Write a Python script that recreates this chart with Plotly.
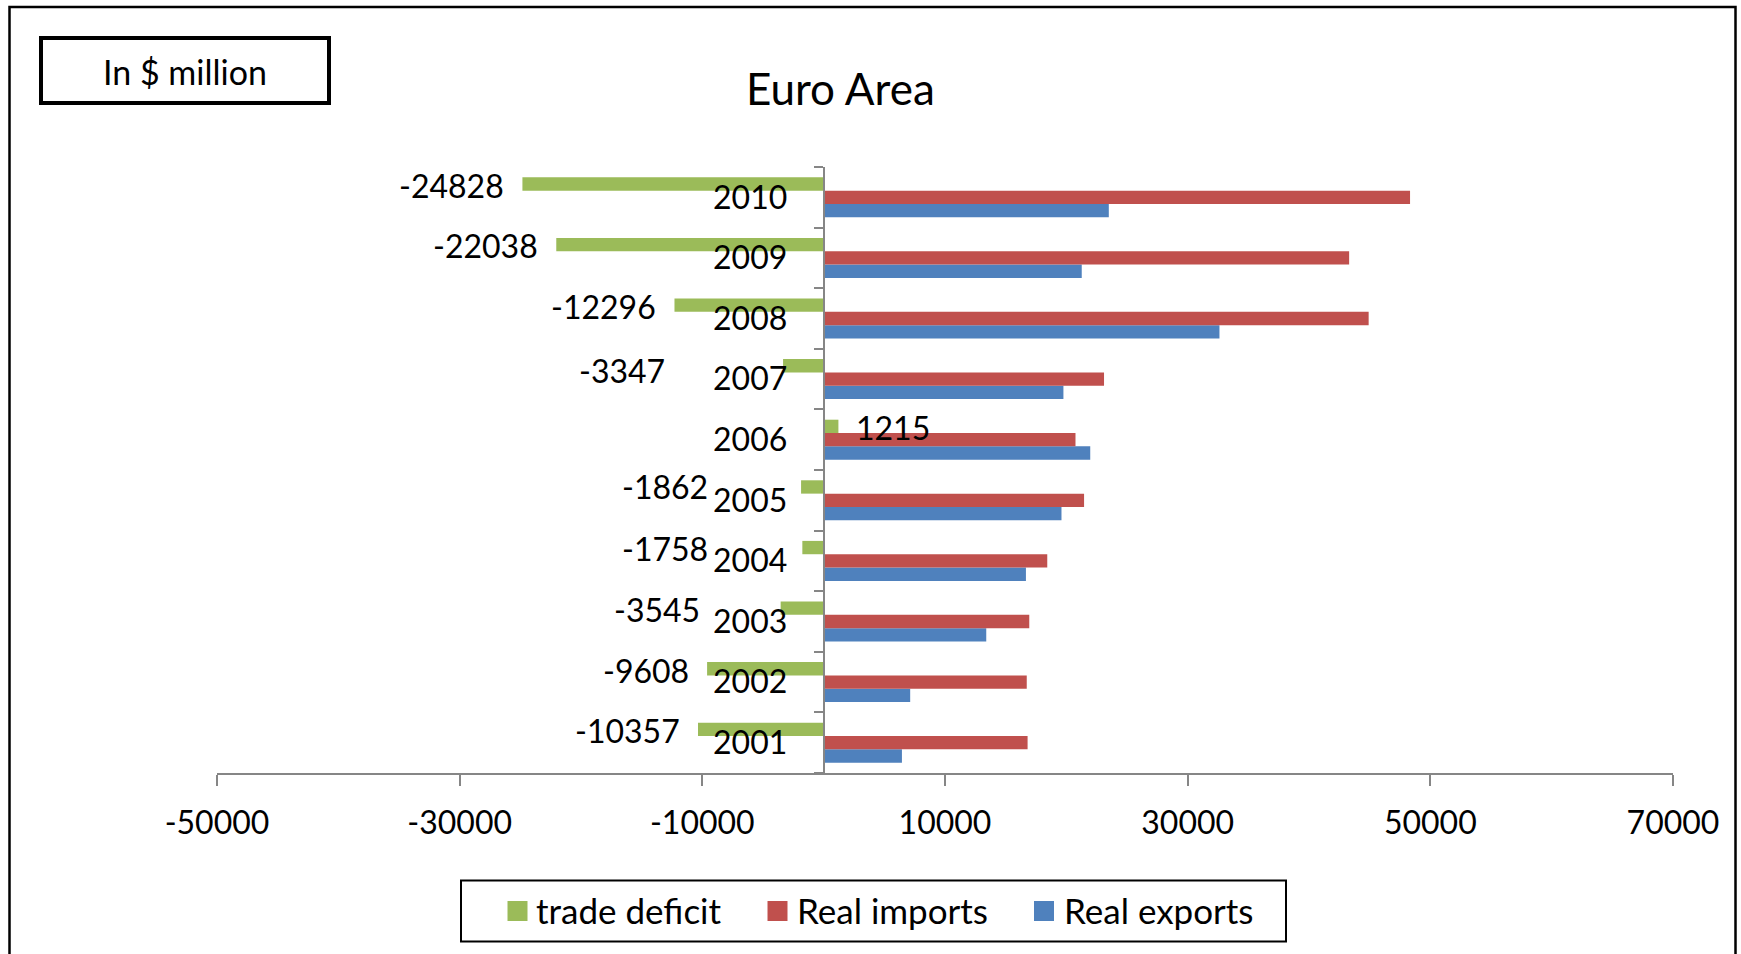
import plotly.graph_objects as go

# --- data (US$ million) ---
years = ["2001", "2002", "2003", "2004", "2005", "2006", "2007", "2008", "2009", "2010"]
real_exports = [6450, 7130, 13400, 16670, 19600, 21970, 19760, 32620, 21270, 23500]
real_imports = [16807, 16738, 16945, 18428, 21462, 20755, 23107, 44916, 43308, 48328]
trade_deficit = [-10357, -9608, -3545, -1758, -1862, 1215, -3347, -12296, -22038, -24828]

x_ticks = [-50000, -30000, -10000, 10000, 30000, 50000, 70000]
legend_names = ["trade deficit", "Real imports", "Real exports"]

# extra (dx, dy) pixel nudges for value labels that would collide with the year labels
label_nudge = {"2007": (-100, -3), "2005": (-75, 2), "2004": (-76, 0), "2003": (-63, 0)}

GREEN = "#9BBB59"
RED = "#C0504D"
BLUE = "#4F81BD"
AXIS_GRAY = "#868686"
FONT = "Lato"

W, H = 1741, 954
M_L, M_R, M_T, M_B = 217, 68, 167, 181
PW, PH = W - M_L - M_R, H - M_T - M_B


def px_x(px):
    return (px - M_L) / PW


def px_y(py):
    return (H - M_B - py) / PH


fig = go.Figure()
# first trace sits lowest within each year group
fig.add_trace(go.Bar(y=years, x=real_exports, orientation="h", name=legend_names[2],
                     marker=dict(color=BLUE, line=dict(width=0))))
fig.add_trace(go.Bar(y=years, x=real_imports, orientation="h", name=legend_names[1],
                     marker=dict(color=RED, line=dict(width=0))))
fig.add_trace(go.Bar(y=years, x=trade_deficit, orientation="h", name=legend_names[0],
                     marker=dict(color=GREEN, line=dict(width=0))))

annotations = []
# value labels on the trade-deficit bars (y given as category index)
for i, (yr, v) in enumerate(zip(years, trade_deficit)):
    dx, dy = label_nudge.get(yr, (0, 0))
    annotations.append(dict(
        x=v, y=i, xref="x", yref="y", text=str(v), showarrow=False,
        xanchor="right" if v < 0 else "left", yanchor="middle",
        xshift=(-16 if v < 0 else 16) + dx, yshift=12 + dy,
        font=dict(family=FONT, size=32, color="black")))

# title
annotations.append(dict(x=px_x(840), y=px_y(88), xref="paper", yref="paper",
                        text="Euro Area", showarrow=False, xanchor="center", yanchor="middle",
                        font=dict(family=FONT, size=44, color="black")))
# unit box text
annotations.append(dict(x=px_x(185), y=px_y(71), xref="paper", yref="paper",
                        text="In $ million", showarrow=False, xanchor="center", yanchor="middle",
                        font=dict(family=FONT, size=34, color="black")))

shapes = [
    # outer chart border
    dict(type="rect", xref="paper", yref="paper",
         x0=px_x(9.5), x1=px_x(1735.5), y0=px_y(960), y1=px_y(7),
         line=dict(color="black", width=2.5), fillcolor="rgba(0,0,0,0)"),
    # unit box
    dict(type="rect", xref="paper", yref="paper",
         x0=px_x(41), x1=px_x(329), y0=px_y(103), y1=px_y(38),
         line=dict(color="black", width=4), fillcolor="rgba(0,0,0,0)"),
    # legend box
    dict(type="rect", xref="paper", yref="paper",
         x0=px_x(461), x1=px_x(1286), y0=px_y(941.5), y1=px_y(880.5),
         line=dict(color="black", width=2), fillcolor="rgba(0,0,0,0)"),
]

# legend entries
legend_items = [(legend_names[0], GREEN, 507.5, 534),
                (legend_names[1], RED, 767.5, 795),
                (legend_names[2], BLUE, 1034, 1061.5)]
for name, col, sq_x, tx_x in legend_items:
    shapes.append(dict(type="rect", xref="paper", yref="paper",
                       x0=px_x(sq_x), x1=px_x(sq_x + 20), y0=px_y(921), y1=px_y(901),
                       line=dict(width=0), fillcolor=col))
    annotations.append(dict(x=px_x(tx_x), y=px_y(910), xref="paper", yref="paper",
                            text=name, showarrow=False, xanchor="left", yanchor="middle",
                            font=dict(family=FONT, size=35, color="black")))

fig.update_layout(
    width=W, height=H,
    margin=dict(l=M_L, r=M_R, t=M_T, b=M_B, pad=0),
    paper_bgcolor="white", plot_bgcolor="white",
    barmode="group", bargap=0.34, bargroupgap=0,
    showlegend=False,
    font=dict(family=FONT, size=32, color="black"),
    annotations=annotations,
    shapes=shapes,
)

fig.update_xaxes(
    range=[-50000, 70000], tickvals=x_ticks, ticktext=[str(t) for t in x_ticks],
    showgrid=False, zeroline=False, showline=True, linecolor=AXIS_GRAY, linewidth=2,
    ticks="outside", ticklen=11, tickwidth=2, tickcolor=AXIS_GRAY,
    tickfont=dict(family=FONT, size=32, color="black"), ticklabelstandoff=10,
)

fig.update_yaxes(
    type="category", categoryorder="array", categoryarray=years,
    range=[-0.5, len(years) - 0.5], autorange=False,
    anchor="free", position=50000 / 120000,
    showgrid=False, zeroline=False, showline=True, linecolor=AXIS_GRAY, linewidth=2,
    ticks="outside", ticklen=9, tickwidth=2, tickcolor=AXIS_GRAY, tickson="boundaries",
    tickfont=dict(family=FONT, size=32, color="black"), ticklabelstandoff=29,
)

fig.write_html("out.html")
